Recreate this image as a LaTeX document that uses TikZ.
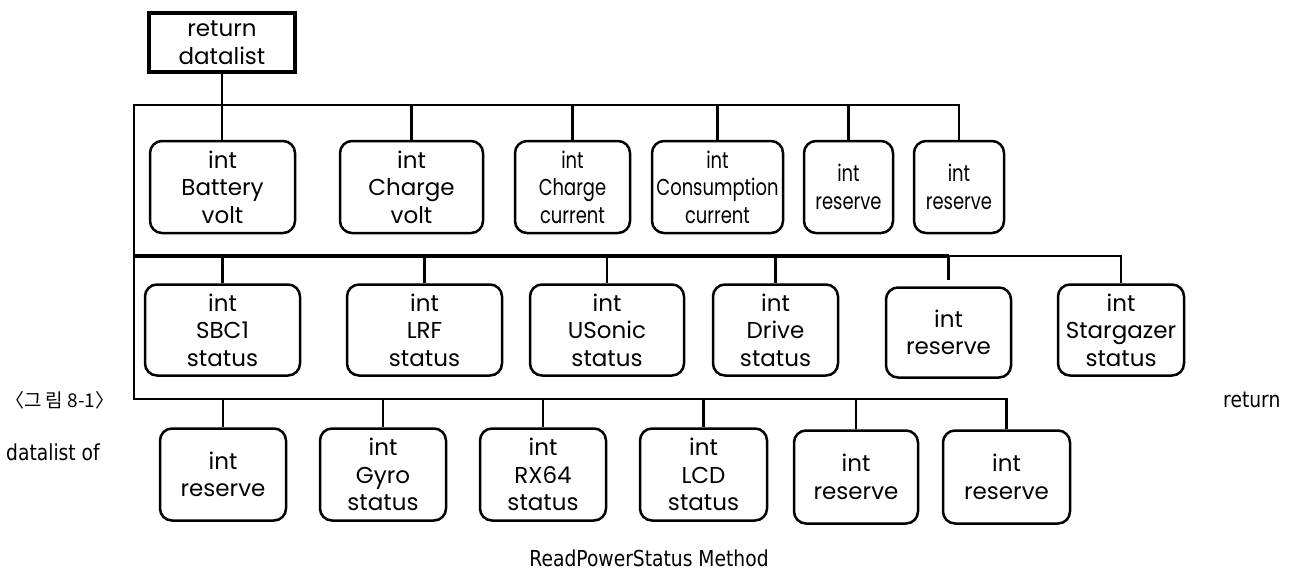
\documentclass[tikz,border=0pt]{standalone}
\usepackage{fontspec}
\setmainfont{Poppins}
\newfontfamily\narrowfont[FakeStretch=0.78]{Poppins}
\newfontfamily\capfont[FakeStretch=0.85]{DejaVu Sans}
\newfontfamily\krfont{Noto Sans CJK KR}
\begin{document}
\begin{tikzpicture}[x=1pt,y=-1pt,
  field/.style={draw, rounded corners=12pt, line width=2.5pt, align=center,
    inner sep=0pt, font=\fontsize{23}{27.5}\selectfont},
  narrowfield/.style={field, font=\narrowfont\fontsize{23}{27.5}\selectfont},
  rootbox/.style={draw, line width=4pt, align=center, inner sep=0pt,
    font=\fontsize{23}{28.5}\selectfont},
  bus/.style={line width=2.5pt},
  busthick/.style={line width=4pt},
  caption/.style={inner sep=0pt, anchor=west, font=\capfont\fontsize{22}{26}\selectfont}]
\path[use as bounding box] (0,0) rectangle (1295,570);

% root
\node[rootbox, minimum width=146pt, minimum height=59pt] (root) at (222,42.5) {return\\datalist};

% first row: power values
\node[field, minimum width=145pt, minimum height=92pt] (b1) at (222.5,187) {int\\Battery\\volt};
\node[field, minimum width=143pt, minimum height=92pt] (b2) at (411.5,187) {int\\Charge\\volt};
\node[narrowfield, minimum width=115pt, minimum height=92pt] (b3) at (572.5,187) {int\\Charge\\current};
\node[narrowfield, minimum width=131pt, minimum height=92pt] (b4) at (717.5,187) {int\\Consumption\\current};
\node[narrowfield, minimum width=89pt, minimum height=92pt] (b5) at (848.5,187) {int\\reserve};
\node[narrowfield, minimum width=90pt, minimum height=92pt] (b6) at (959,187) {int\\reserve};

% second row: device status
\node[field, minimum width=155pt, minimum height=91pt] (s1) at (222.5,330) {int\\SBC1\\status};
\node[field, minimum width=155pt, minimum height=91pt] (s2) at (424.5,330) {int\\LRF\\status};
\node[field, minimum width=154pt, minimum height=91pt] (s3) at (607,330) {int\\USonic\\status};
\node[field, minimum width=125pt, minimum height=91pt] (s4) at (775.5,330) {int\\Drive\\status};
\node[field, minimum width=125pt, minimum height=90pt] (s5) at (948.5,332.5) {int\\reserve};
\node[field, minimum width=126pt, minimum height=91pt] (s6) at (1121,330) {int\\Stargazer\\status};

% third row: more status
\node[field, minimum width=126pt, minimum height=92pt] (t1) at (223,474.5) {int\\reserve};
\node[field, minimum width=126pt, minimum height=92pt] (t2) at (383,474.5) {int\\Gyro\\status};
\node[field, minimum width=126pt, minimum height=92pt] (t3) at (543,474.5) {int\\RX64\\status};
\node[field, minimum width=127pt, minimum height=92pt] (t4) at (703.5,474.5) {int\\LCD\\status};
\node[field, minimum width=124pt, minimum height=93pt] (t5) at (856,477) {int\\reserve};
\node[field, minimum width=127pt, minimum height=93pt] (t6) at (1006.5,477) {int\\reserve};

% bus lines
\coordinate (spinetop) at (134,105);
\coordinate (spinemid) at (134,256);
\coordinate (spinebot) at (134,399);

\draw[bus] (root.south) -- (root.south |- b1.north);
\draw[bus] (b6.north) -- (b6.north |- spinetop) -- (spinetop) -- (spinebot)
  -- (t6.north |- spinebot) -- (t6.north);
\foreach \n in {b2,b3,b4,b5}
  \draw[bus] (\n.north |- spinetop) -- (\n.north);

\draw[busthick] (spinemid) -- (s5.north |- spinemid);
\draw[bus] (s5.north |- spinemid) -- (s6.north |- spinemid) -- (s6.north);
\foreach \n in {s1,s2,s3,s4}
  \draw[bus] (\n.north |- spinemid) -- (\n.north);
\draw[bus, shorten >=6pt] (s5.north |- spinemid) -- (s5.north);

\foreach \n in {t1,t2,t3,t4,t5}
  \draw[bus] (\n.north |- spinebot) -- (\n.north);

% caption
\node[caption, font=\krfont\fontsize{19}{21}\selectfont] (fig) at (5,400) {〈그 림 8-1〉};
\node[caption] (cap1) at (6,452) {datalist of};
\node[caption] (cap2) at (1223,400) {return};
\node[caption, anchor=center] (cap3) at (649,558) {ReadPowerStatus Method};
\end{tikzpicture}
\end{document}
